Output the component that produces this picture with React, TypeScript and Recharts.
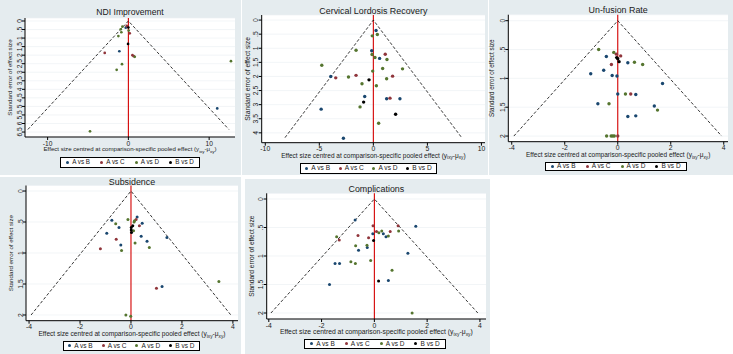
import React from 'react';
import { ScatterChart, Scatter, XAxis, YAxis, CartesianGrid, ReferenceLine } from 'recharts';

const FONT = '"Liberation Sans", Arial, Helvetica, sans-serif';
const BG = '#e5ecef';
const TXT = '#1a1a1a';
const COLORS = ['#1a476f', '#90353b', '#55752f', '#000000'];
const SERIES_LABELS = ['A vs B', 'A vs C', 'A vs D', 'B vs D'];

type P = { x: number; y: number };
const pts = (a: number[][]): P[] => a.map(([x, y]) => ({ x, y }));

// ---- NDI Improvement ----
const ndiAB = pts([[-0.33, 0.39], [-1.12, 1.77], [11.0, 5.12]]);
const ndiAC = pts([[-0.2, 0.29], [-0.08, 0.33], [0.17, 0.72], [-2.93, 1.87], [0.5, 2.0], [0.66, 2.06]]);
const ndiAD = pts([[-0.74, 0.33], [-0.95, 0.49], [-0.87, 0.66], [-1.24, 0.88], [0.04, 0.56], [0.79, 2.1], [12.7, 2.35], [-0.79, 2.53], [-1.45, 2.86], [-4.75, 6.46]]);
const ndiBD = pts([[0, 0.38], [-0.04, 1.34]]);

// ---- Cervical Lordosis Recovery ----
const cerAB = pts([[0.25, 0.37], [-0.15, 1.09], [0.58, 1.36], [-3.94, 2.0], [-0.8, 2.71], [1.23, 2.79], [2.46, 2.79], [-4.83, 3.16], [-2.77, 4.19]]);
const cerAC = pts([[1.1, 1.21], [-3.48, 2.05], [-1.6, 1.96], [1.78, 1.99], [1.54, 2.77]]);
const cerAD = pts([[0.37, 0.51], [-0.1, 0.56], [-1.6, 1.07], [-0.12, 1.22], [0.15, 1.33], [1.26, 1.4], [-4.77, 1.6], [-0.06, 1.81], [0.86, 1.72], [2.7, 1.73], [-2.3, 2.02], [1.23, 2.08], [-1.05, 2.26], [0.28, 2.33], [-1.23, 3.08], [0.49, 3.66]]);
const cerBD = pts([[-0.4, 2.12], [-0.9, 2.91], [2.06, 3.34]]);

// ---- Un-fusion Rate ----
const unfAB = pts([[-0.43, 0.62], [0.38, 0.73], [-0.53, 0.86], [-1.02, 0.92], [-0.21, 0.95], [-0.03, 0.96], [1.69, 1.09], [0, 1.27], [0.68, 1.28], [-0.75, 1.44], [1.38, 1.48], [0.38, 1.66], [0.68, 1.65]]);
const unfAC = pts([[-0.05, 0.58], [0.11, 0.61], [-0.24, 0.76], [0.49, 1.27], [0.0, 2.0]]);
const unfAD = pts([[-0.72, 0.5], [-0.15, 0.55], [0.63, 0.72], [0.94, 0.76], [0.29, 1.27], [-0.33, 1.44], [1.5, 1.55], [-0.42, 2.0], [-0.25, 2.0], [-0.19, 2.0], [-0.13, 2.0]]);
const unfBD = pts([[-0.04, 0.64], [0, 0.66], [0.05, 0.71]]);

// ---- Subsidence ----
const subAB = pts([[0.24, 0.42], [-0.75, 0.47], [0.44, 0.52], [-0.47, 0.59], [-0.95, 0.68], [0.4, 0.73], [0.63, 0.81], [1.41, 0.75], [-0.4, 0.87], [1.22, 1.54]]);
const subAC = pts([[0.2, 0.46], [0.33, 0.56], [-0.58, 0.78], [-1.2, 0.93], [1.0, 1.57]]);
const subAD = pts([[0.14, 0.48], [0.12, 0.5], [-0.12, 0.46], [-0.6, 0.53], [0.1, 0.64], [0.16, 0.84], [0.72, 0.91], [-0.37, 0.96], [3.45, 1.46], [-0.2, 2.0], [-0.01, 2.02]]);
const subBD = pts([[0.07, 0.56], [0.01, 0.59], [0.01, 0.63], [0.02, 0.67]]);

// ---- Complications ----
const comAB = pts([[-0.73, 0.37], [1.57, 0.48], [-0.06, 0.61], [0.34, 0.61], [0.44, 0.66], [-0.27, 0.85], [-0.6, 0.9], [1.27, 0.95], [-1.49, 1.13], [-1.32, 1.13], [-1.7, 1.5], [0.53, 1.43]]);
const comAC = pts([[-0.05, 0.47], [0.9, 0.47], [0.08, 0.57], [0.6, 0.57], [-1.33, 0.72], [-0.62, 0.64], [-0.22, 0.68]]);
const comAD = pts([[0.28, 0.56], [0.17, 0.59], [0.92, 0.56], [0.53, 0.65], [-1.43, 0.66], [-0.71, 0.82], [-0.28, 0.81], [-0.89, 1.1], [-0.72, 1.13], [-0.14, 1.08], [0.67, 1.25], [1.43, 2.0]]);
const comBD = pts([[-0.03, 0.73], [0.16, 1.44]]);

// ---- tick values ----
const ndiXTicks = [-10, 0, 10];
const ndiYTicks = [0, 0.5, 1, 1.5, 2, 2.5, 3, 3.5, 4, 4.5, 5, 5.5, 6, 6.5];
const cerXTicks = [-10, -5, 0, 5, 10];
const cerYTicks = [0, 0.5, 1, 1.5, 2, 2.5, 3, 3.5, 4];
const smallXTicks = [-4, -2, 0, 2, 4];
const smallYTicks = [0, 0.5, 1, 1.5, 2];

const fmtY = (v: number) => (v === 0 ? '0' : String(v).replace(/^0\./, '.'));

type Cfg = {
  title: string;
  box: { x: number; y: number; w: number; h: number };
  margin: { top: number; right: number; bottom: number; left: number };
  xDomain: [number, number];
  yDomain: [number, number];
  xTicks: number[];
  yTicks: number[];
  seMax: number;
  series: P[][];
  r: number;
  titleY: number;
  titleFs: number;
  yLabX: number;
  yLabFs: number;
  xTitleFs: number;
  xTitleDy: number;
  tickFs: number;
  legend: { left: number; width: number; height: number; fs: number };
};

const panels: Cfg[] = [
  {
    title: 'NDI Improvement',
    box: { x: 0, y: 0, w: 241, h: 175 },
    margin: { top: 18, right: 6, bottom: 38, left: 25 },
    xDomain: [-12.8, 13.2], yDomain: [-0.175, 6.79],
    xTicks: ndiXTicks, yTicks: ndiYTicks, seMax: 6.35,
    series: [ndiAB, ndiAC, ndiAD, ndiBD], r: 1.35,
    titleY: 15, titleFs: 8.6, yLabX: 10, yLabFs: 6.2, xTitleFs: 6.1, xTitleDy: 14, tickFs: 6.6,
    legend: { left: 60, width: 140, height: 11, fs: 6.3 },
  },
  {
    title: 'Cervical Lordosis Recovery',
    box: { x: 242, y: 0, w: 246, h: 175 },
    margin: { top: 15, right: 3, bottom: 32.3, left: 19.7 },
    xDomain: [-10.33, 10.33], yDomain: [-0.18, 4.35],
    xTicks: cerXTicks, yTicks: cerYTicks, seMax: 4.17,
    series: [cerAB, cerAC, cerAD, cerBD], r: 1.7,
    titleY: 13.5, titleFs: 8.9, yLabX: 5.5, yLabFs: 6.8, xTitleFs: 6.5, xTitleDy: 15, tickFs: 6.8,
    legend: { left: 58, width: 137, height: 11.7, fs: 6.6 },
  },
  {
    title: 'Un-fusion Rate',
    box: { x: 489, y: 0, w: 244, h: 175 },
    margin: { top: 14.7, right: 5, bottom: 33.3, left: 19.3 },
    xDomain: [-4.13, 4.16], yDomain: [-0.104, 2.098],
    xTicks: smallXTicks, yTicks: smallYTicks, seMax: 2,
    series: [unfAB, unfAC, unfAD, unfBD], r: 1.7,
    titleY: 13, titleFs: 8.9, yLabX: 3, yLabFs: 6.3, xTitleFs: 6.5, xTitleDy: 15.3, tickFs: 6.8,
    legend: { left: 56, width: 141.7, height: 9.5, fs: 6.5 },
  },
  {
    title: 'Subsidence',
    box: { x: 0, y: 177, w: 241, h: 177 },
    margin: { top: 8.5, right: 3, bottom: 33.3, left: 26 },
    xDomain: [-4.12, 4.2], yDomain: [-0.089, 2.092],
    xTicks: smallXTicks, yTicks: smallYTicks, seMax: 2,
    series: [subAB, subAC, subAD, subBD], r: 1.5,
    titleY: 7.5, titleFs: 8.9, yLabX: 11, yLabFs: 6.2, xTitleFs: 6.6, xTitleDy: 15.3, tickFs: 6.8,
    legend: { left: 62.7, width: 137.3, height: 10.3, fs: 6.5 },
  },
  {
    title: 'Complications',
    box: { x: 245, y: 179, w: 245, h: 175 },
    margin: { top: 14.3, right: 4, bottom: 35, left: 21.7 },
    xDomain: [-4.08, 4.23], yDomain: [-0.1, 2.105],
    xTicks: smallXTicks, yTicks: smallYTicks, seMax: 2,
    series: [comAB, comAC, comAD, comBD], r: 1.5,
    titleY: 13, titleFs: 8.9, yLabX: 6.7, yLabFs: 6.6, xTitleFs: 6.8, xTitleDy: 15, tickFs: 6.8,
    legend: { left: 59.3, width: 141.4, height: 9.7, fs: 6.5 },
  },
];

function Panel({ cfg }: { cfg: Cfg }) {
  const { box, margin } = cfg;
  const plotL = margin.left;
  const plotR = box.w - margin.right;
  const plotT = margin.top;
  const plotB = box.h - margin.bottom;
  const cx = (plotL + plotR) / 2;
  const cy = (plotT + plotB) / 2;
  const L = 1.96 * cfg.seMax;
  const funnel = [
    { x: -L, y: cfg.seMax },
    { x: 0, y: 0 },
    { x: L, y: cfg.seMax },
  ];
  const sub = cfg.xTitleFs * 0.72;
  const chartMargin = { top: margin.top, right: margin.right, bottom: 0, left: 0 };
  return (
    <div style={{ position: 'absolute', left: box.x, top: box.y, width: box.w, height: box.h, background: BG }}>
      <div style={{ position: 'absolute', left: 0, top: 0 }}>
        <ScatterChart width={box.w} height={box.h} margin={chartMargin}>
          <CartesianGrid vertical={false} stroke="#edf1f3" strokeWidth={0.7} fill="#ffffff" />
          <XAxis
            type="number" dataKey="x" domain={cfg.xDomain} ticks={cfg.xTicks} interval={0}
            allowDataOverflow height={margin.bottom} tickSize={3} tickMargin={0} stroke="#000"
            tick={(p: any) => (
              <text x={p.x} y={p.y + 5.5} textAnchor="middle" fontSize={cfg.tickFs} fontFamily={FONT} fill={TXT}>
                {p.payload.value}
              </text>
            )}
          />
          <YAxis
            type="number" dataKey="y" domain={cfg.yDomain} ticks={cfg.yTicks} interval={0} reversed
            allowDataOverflow width={margin.left} tickSize={3} tickMargin={0} stroke="#000"
            tick={(p: any) => (
              <text transform={`translate(${p.x - 0.5},${p.y}) rotate(-90)`} textAnchor="middle" fontSize={cfg.tickFs} fontFamily={FONT} fill={TXT}>
                {fmtY(p.payload.value)}
              </text>
            )}
          />
          <ReferenceLine x={0} stroke="#d40000" strokeWidth={1.1} />
          <Scatter
            data={funnel} isAnimationActive={false}
            line={{ stroke: '#000', strokeDasharray: '3 2', strokeWidth: 0.8 }}
            shape={() => <g />}
          />
          {cfg.series.map((s, i) => (
            <Scatter
              key={i} data={s} isAnimationActive={false} fill={COLORS[i]}
              shape={(p: any) => <circle cx={p.cx} cy={p.cy} r={cfg.r} fill={COLORS[i]} />}
            />
          ))}
        </ScatterChart>
      </div>
      <svg width={box.w} height={box.h} style={{ position: 'absolute', left: 0, top: 0, pointerEvents: 'none', overflow: 'visible' }}>
        <text x={cx} y={cfg.titleY} textAnchor="middle" fontSize={cfg.titleFs} fontFamily={FONT} fill={TXT}>
          {cfg.title}
        </text>
        <text
          transform={`translate(${cfg.yLabX + cfg.yLabFs * 0.36},${cy}) rotate(-90)`}
          textAnchor="middle" fontSize={cfg.yLabFs} fontFamily={FONT} fill={TXT}
        >
          Standard error of effect size
        </text>
        <text x={cx} y={plotB + cfg.xTitleDy} textAnchor="middle" fontSize={cfg.xTitleFs} fontFamily={FONT} fill={TXT}>
          Effect size centred at comparison-specific pooled effect (y
          <tspan fontSize={sub} dy={1.5}>ixy</tspan>
          <tspan dy={-1.5}>-μ</tspan>
          <tspan fontSize={sub} dy={1.5}>xy</tspan>
          <tspan dy={-1.5}>)</tspan>
        </text>
      </svg>
      <div
        style={{
          position: 'absolute', left: cfg.legend.left, top: plotB + 20, width: cfg.legend.width,
          height: cfg.legend.height, boxSizing: 'border-box', border: '1px solid #000', background: '#fff',
          display: 'flex', alignItems: 'center', justifyContent: 'space-around', fontFamily: FONT,
          fontSize: cfg.legend.fs, color: TXT, lineHeight: 1, whiteSpace: 'nowrap',
        }}
      >
        {SERIES_LABELS.map((lab, i) => (
          <span key={lab} style={{ display: 'flex', alignItems: 'center' }}>
            <span style={{ display: 'inline-block', width: 3, height: 3, borderRadius: '50%', background: COLORS[i], marginRight: 3 }} />
            {lab}
          </span>
        ))}
      </div>
    </div>
  );
}

export default function App() {
  return (
    <div style={{ position: 'absolute', left: 0, top: 0, width: 733, height: 354, background: '#fff', overflow: 'hidden' }}>
      {panels.map((c) => (
        <Panel key={c.title} cfg={c} />
      ))}
    </div>
  );
}
